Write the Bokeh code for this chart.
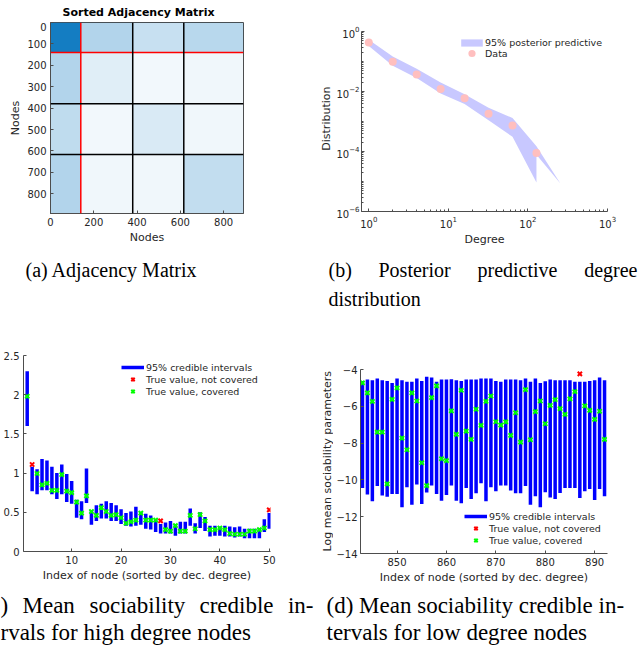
import numpy as np
from bokeh.plotting import figure
from bokeh.layouts import column, row
from bokeh.models import (Range1d, Legend, LegendItem, FixedTicker,
                          LogTickFormatter, NumeralTickFormatter, Span, ColumnDataSource)
from bokeh.core.properties import value
from bokeh.embed import file_html
from bokeh.resources import INLINE

# ---------------- data ----------------
# (a) sorted adjacency matrix: community boundaries and block edge densities
n_nodes = 892
community_edges = [0, 140, 380, 616, 892]
block_density = [
    [0.92, 0.30, 0.22, 0.28],
    [0.30, 0.12, 0.05, 0.06],
    [0.25, 0.05, 0.15, 0.06],
    [0.30, 0.06, 0.06, 0.24],
]

# (b) empirical degree distribution and 95% posterior predictive band
degree_bins = [1, 2, 4, 8, 16, 32, 64, 128]
degree_freq = [0.43, 0.098, 0.037, 0.012, 0.0059, 0.0018, 0.00074, 0.000089]
band_upper_deg = [1, 2, 4, 8, 16, 32, 64, 128, 256]
band_upper = [0.53, 0.147, 0.057, 0.020, 0.0081, 0.0029, 0.0013, 1.5e-4, 8.5e-6]
band_lower_deg = [256, 128, 128, 64, 32, 16, 8, 4, 2, 1]
band_lower = [8.5e-6, 7.8e-5, 9.3e-6, 3.1e-4, 1.1e-3, 3.8e-3, 8.5e-3, 0.028, 0.072, 0.33]

# (c) mean sociability credible intervals, 50 highest-degree nodes
high_idx = list(range(1, 51))
high_upper = [2.30, 1.08, 1.05, 1.18, 1.16, 1.08, 1.00, 1.11, 0.99, 0.90,
              0.66, 0.64, 1.06, 0.53, 0.59, 0.61, 0.64, 0.62, 0.59, 0.54,
              0.49, 0.51, 0.57, 0.50, 0.48, 0.46, 0.41, 0.35, 0.37, 0.39,
              0.35, 0.38, 0.38, 0.55, 0.36, 0.50, 0.44, 0.33, 0.33, 0.32,
              0.33, 0.32, 0.31, 0.32, 0.29, 0.29, 0.29, 0.30, 0.41, 0.49]
high_lower = [1.60, 0.77, 0.73, 0.78, 0.78, 0.73, 0.67, 0.73, 0.63, 0.61,
              0.43, 0.41, 0.62, 0.34, 0.39, 0.42, 0.42, 0.39, 0.39, 0.35,
              0.33, 0.32, 0.33, 0.34, 0.29, 0.28, 0.25, 0.23, 0.23, 0.23,
              0.20, 0.23, 0.23, 0.33, 0.23, 0.30, 0.26, 0.19, 0.20, 0.20,
              0.19, 0.19, 0.18, 0.19, 0.17, 0.17, 0.17, 0.17, 0.25, 0.29]
high_true = [1.98, 1.11, 0.995, 0.85, 0.87, 0.78, 0.78, 0.98, 0.77, 0.75,
             0.63, 0.49, 0.71, 0.51, 0.46, 0.56, 0.51, 0.46, 0.47, 0.43,
             0.36, 0.38, 0.40, 0.49, 0.40, 0.40, 0.40, 0.39, 0.28, 0.26,
             0.33, 0.26, 0.26, 0.46, 0.29, 0.47, 0.39, 0.28, 0.28, 0.30,
             0.28, 0.23, 0.22, 0.22, 0.22, 0.26, 0.26, 0.28, 0.30, 0.53]

# (d) log mean sociability credible intervals, 50 lowest-degree nodes
low_idx = list(range(843, 893))
low_upper = [-4.62, -4.55, -4.58, -4.49, -4.58, -4.62, -4.73, -4.49, -4.58, -4.67,
             -4.67, -4.49, -4.62, -4.40, -4.44, -4.67, -4.55, -4.55, -4.53, -4.58,
             -4.62, -4.55, -4.55, -4.55, -4.49, -4.49, -4.49, -4.62, -4.67, -4.55,
             -4.55, -4.55, -4.58, -4.49, -4.67, -4.49, -4.73, -4.64, -4.55, -4.58,
             -4.58, -4.58, -4.58, -4.67, -4.67, -4.67, -4.62, -4.58, -4.44, -4.58]
low_lower = [-10.44, -10.80, -11.16, -10.33, -10.85, -10.91, -10.76, -10.76, -11.49, -10.40,
             -11.35, -10.25, -11.31, -10.69, -10.31, -10.76, -11.13, -10.82, -10.31, -11.13,
             -11.27, -10.44, -11.04, -10.73, -10.18, -11.16, -10.40, -10.62, -10.31, -10.31,
             -10.58, -10.73, -10.73, -10.33, -11.35, -10.89, -11.49, -10.67, -10.95, -11.04,
             -10.71, -10.44, -10.44, -10.44, -10.98, -10.62, -10.49, -11.09, -10.49, -10.89]
low_true = [-4.73, -5.27, -5.73, -7.40, -7.40, -10.22, -5.62, -5.00, -7.73, -8.36,
            -5.27, -5.71, -9.07, -10.31, -5.53, -4.89, -8.85, -8.95, -6.25, -7.53,
            -5.13, -7.35, -7.80, -6.16, -7.04, -5.73, -5.44, -6.84, -7.02, -6.85,
            -7.58, -6.35, -7.95, -5.09, -7.82, -6.29, -5.71, -6.95, -5.95, -5.64,
            -6.13, -6.44, -5.60, -5.20, -4.24, -5.98, -6.22, -6.71, -6.27, -7.80]

# ---------------- styling helpers ----------------
SANS = "DejaVu Sans"
SERIF = "Liberation Serif"
INK = "#262626"
AXIS = "#4d4d4d"


def panel(w, h, left, right, top, bottom, **kw):
    p = figure(width=w, height=h, min_border_left=left, min_border_right=right,
               min_border_top=top, min_border_bottom=bottom,
               output_backend="svg", toolbar_location=None, **kw)
    p.frame_align = False
    return p


def style_axes(p, tick_in=3):
    p.grid.visible = False
    p.background_fill_color = "white"
    p.border_fill_color = "white"
    for ax in p.axis:
        ax.major_label_text_font = SANS
        ax.major_label_text_font_size = "10px"
        ax.major_label_text_color = INK
        ax.axis_line_color = AXIS
        ax.axis_line_width = 1
        ax.major_tick_line_color = AXIS
        ax.minor_tick_line_color = AXIS
        ax.major_tick_in = tick_in
        ax.major_tick_out = 0
        ax.minor_tick_in = 0
        ax.minor_tick_out = 0
        ax.axis_label_text_font = SANS
        ax.axis_label_text_font_size = "11px"
        ax.axis_label_text_font_style = "normal"
        ax.axis_label_text_color = INK
        ax.axis_label_standoff = 2
        ax.major_label_standoff = 4


def interval_legend(p, seg, miss, hit, loc):
    leg = Legend(items=[LegendItem(label="95% credible intervals", renderers=[seg]),
                        LegendItem(label="True value, not covered", renderers=[miss]),
                        LegendItem(label="True value, covered", renderers=[hit])],
                 location=loc, padding=0, margin=0, spacing=0,
                 glyph_width=23, glyph_height=12, label_height=12, label_standoff=2,
                 border_line_color=None, background_fill_alpha=0,
                 label_text_font=SANS, label_text_font_size="9.5px", label_text_color=INK)
    p.add_layout(leg)


def text_strip(width, height, xs, ys, texts, aligns, font, size, style="normal",
               color="black", angle=0.0):
    """A blank canvas holding free text; y is measured from the strip's top edge."""
    s = figure(width=width, height=height, x_range=Range1d(0, width),
               y_range=Range1d(0, height), x_axis_location=None, y_axis_location=None,
               min_border=0, output_backend="svg", toolbar_location=None)
    s.grid.visible = False
    s.outline_line_color = None
    s.text(x=xs, y=[height - y for y in ys], text=texts, text_align=aligns,
           text_baseline="middle", angle=angle, text_font=value(font),
           text_font_size=size, text_font_style=style, text_color=color)
    return s


# ---------------- (a) adjacency matrix ----------------
title_a = text_strip(320, 22, [146], [12], ["Sorted Adjacency Matrix"], "center",
                     SANS, "11px", style="bold")
pa = panel(320, 228, 50, 77, 0, 37,
           x_range=Range1d(0, n_nodes), y_range=Range1d(n_nodes, 0))
style_axes(pa)
pa.outline_line_color = AXIS

blk = dict(left=[], right=[], top=[], bottom=[], alpha=[])
for r in range(4):
    for c in range(4):
        blk["left"].append(community_edges[c])
        blk["right"].append(community_edges[c + 1])
        blk["top"].append(community_edges[r])
        blk["bottom"].append(community_edges[r + 1])
        blk["alpha"].append(block_density[r][c])
pa.quad(left="left", right="right", top="top", bottom="bottom", fill_alpha="alpha",
        fill_color="#0072BD", line_color=None, source=ColumnDataSource(blk))

for k, edge in enumerate(community_edges[1:-1]):
    col = "red" if k == 0 else "black"
    pa.add_layout(Span(location=edge, dimension="height", line_color=col, line_width=1.5))
    pa.add_layout(Span(location=edge, dimension="width", line_color=col, line_width=1.5))

pa.xaxis.ticker = FixedTicker(ticks=[0, 200, 400, 600, 800])
pa.yaxis.ticker = FixedTicker(ticks=[0, 100, 200, 300, 400, 500, 600, 700, 800])
pa.xaxis.axis_label = "Nodes"
pa.yaxis.axis_label = "Nodes"

# ---------------- (b) degree distribution ----------------
ylab_b = text_strip(13, 250, [6], [121], ["Distribution"], "center", SANS, "11px",
                    color=INK, angle=np.pi / 2)
pb = panel(306, 250, 26, 32, 31, 39, x_axis_type="log", y_axis_type="log",
           x_range=Range1d(0.81, 1000), y_range=Range1d(1e-6, 1))
style_axes(pb)
pb.outline_line_color = None

band = pb.patch(band_upper_deg + band_lower_deg, band_upper + band_lower,
                fill_color="#C8C8FF", line_color=None)
pts = pb.scatter(degree_bins, degree_freq, size=8, fill_color="#FFBFBF", line_color=None)

decades = [10.0 ** e for e in range(-6, 3)]
pb.xaxis.ticker = FixedTicker(ticks=[1, 10, 100, 1000],
                              minor_ticks=[m * d for d in decades[6:] for m in range(2, 10)])
pb.yaxis.ticker = FixedTicker(ticks=[1e-6, 1e-4, 1e-2, 1],
                              minor_ticks=[m * d for d in decades[:6] for m in range(1, 10)])
pb.xaxis.formatter = LogTickFormatter()
pb.yaxis.formatter = LogTickFormatter()
for ax in pb.axis:
    ax.minor_tick_in = 2
pb.yaxis.major_label_standoff = 2
pb.xaxis.axis_label = "Degree"

for item, loc, gh in [(LegendItem(label="95% posterior predictive", renderers=[band]), (97, 163), 9),
                      (LegendItem(label="Data", renderers=[pts]), (97, 149), 18)]:
    pb.add_layout(Legend(items=[item], location=loc, padding=0, margin=0, spacing=0,
                         glyph_width=27, glyph_height=gh, label_height=gh, label_standoff=0,
                         border_line_color=None, background_fill_alpha=0,
                         label_text_font=SANS, label_text_font_size="9.5px",
                         label_text_color=INK))

# ---------------- (c) high degree nodes ----------------
pc = panel(320, 260, 22, 50, 25, 39,
           x_range=Range1d(0.25, 50.25), y_range=Range1d(0, 2.5))
style_axes(pc)
pc.outline_line_color = None
hi_covered = [lo <= t <= up for lo, t, up in zip(high_lower, high_true, high_upper)]
seg_c = pc.segment(x0=high_idx, y0=high_lower, x1=high_idx, y1=high_upper,
                   line_color="#0000FF", line_width=3.5)
miss_c = pc.scatter([i for i, c in zip(high_idx, hi_covered) if not c],
                    [t for t, c in zip(high_true, hi_covered) if not c],
                    marker="x", size=6, line_width=2, line_color="#FF0000")
hit_c = pc.scatter([i for i, c in zip(high_idx, hi_covered) if c],
                   [t for t, c in zip(high_true, hi_covered) if c],
                   marker="x", size=6, line_width=2, line_color="#00FF00")
pc.xaxis.ticker = FixedTicker(ticks=[10, 20, 30, 40, 50])
pc.yaxis.ticker = FixedTicker(ticks=[0, 0.5, 1, 1.5, 2, 2.5])
pc.yaxis.formatter = NumeralTickFormatter(format="0.[0]")
pc.xaxis.axis_label = "Index of node (sorted by dec. degree)"
interval_legend(pc, seg_c, miss_c, hit_c, (98, 154))

# ---------------- (d) low degree nodes ----------------
ylab_d = text_strip(13, 260, [6.5], [131], ["Log mean sociability parameters"], "center",
                    SANS, "11px", color=INK, angle=np.pi / 2)
pd_ = panel(306, 260, 26, 32, 39, 37,
            x_range=Range1d(842.6, 892.6), y_range=Range1d(-14, -4))
style_axes(pd_)
pd_.outline_line_color = None
lo_covered = [lo <= t <= up for lo, t, up in zip(low_lower, low_true, low_upper)]
seg_d = pd_.segment(x0=low_idx, y0=low_lower, x1=low_idx, y1=low_upper,
                    line_color="#0000FF", line_width=3.5)
miss_d = pd_.scatter([i for i, c in zip(low_idx, lo_covered) if not c],
                     [t for t, c in zip(low_true, lo_covered) if not c],
                     marker="x", size=6, line_width=2, line_color="#FF0000")
hit_d = pd_.scatter([i for i, c in zip(low_idx, lo_covered) if c],
                    [t for t, c in zip(low_true, lo_covered) if c],
                    marker="x", size=6, line_width=2, line_color="#00FF00")
pd_.xaxis.ticker = FixedTicker(ticks=[850, 860, 870, 880, 890])
pd_.yaxis.ticker = FixedTicker(ticks=[-14, -12, -10, -8, -6, -4])
pd_.yaxis.major_label_standoff = 3
pd_.xaxis.axis_label = "Index of node (sorted by dec. degree)"
interval_legend(pd_, seg_d, miss_d, hit_d, (104, 7))

# ---------------- sub-figure captions ----------------
cap_top = text_strip(
    639, 80,
    [25, 328, 378, 477, 637, 328],
    [19, 19, 19, 19, 19, 48],
    ["(a) Adjacency Matrix", "(b)", "Posterior", "predictive", "degree", "distribution"],
    ["left", "left", "left", "left", "right", "left"], SERIF, "20px")
cap_bottom = text_strip(
    639, 56,
    [0, 22, 89, 199, 313, 0, 326, 326],
    [15, 15, 15, 15, 15, 42, 15, 42],
    [")", "Mean", "sociability", "credible", "in-", "rvals for high degree nodes",
     "(d) Mean sociability credible in-", "tervals for low degree nodes"],
    ["left", "left", "left", "left", "right", "left", "left", "left"], SERIF, "23px")

layout = column(row(column(title_a, pa), ylab_b, pb), cap_top,
                row(pc, ylab_d, pd_), cap_bottom)
open("out.html", "w").write(file_html(layout, INLINE))
